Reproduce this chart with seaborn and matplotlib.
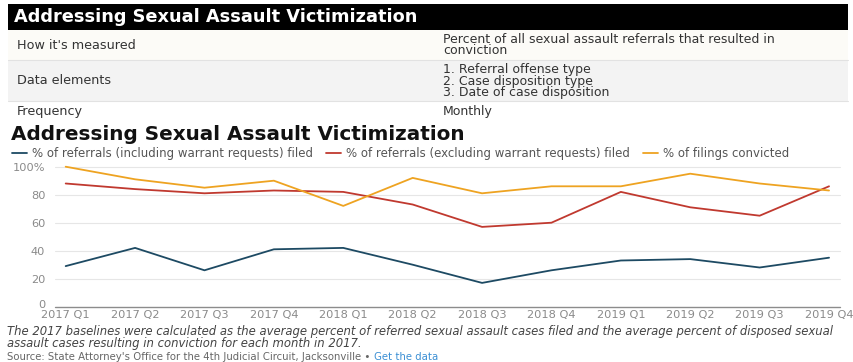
import matplotlib
matplotlib.use("Agg")
import matplotlib.pyplot as plt
from matplotlib.patches import Rectangle
from matplotlib.lines import Line2D
from matplotlib.transforms import ScaledTranslation
import pandas as pd
import seaborn as sns

# Quarterly series (percent)
quarters = ["2017 Q1", "2017 Q2", "2017 Q3", "2017 Q4",
            "2018 Q1", "2018 Q2", "2018 Q3", "2018 Q4",
            "2019 Q1", "2019 Q2", "2019 Q3", "2019 Q4"]
incl_warrant = [29, 42, 26, 41, 42, 30, 17, 26, 33, 34, 28, 35]
excl_warrant = [88, 84, 81, 83, 82, 73, 57, 60, 82, 71, 65, 86]
convicted = [100, 91, 85, 90, 72, 92, 81, 86, 86, 95, 88, 83]

series_names = ["% of referrals (including warrant requests) filed",
                "% of referrals (excluding warrant requests) filed",
                "% of filings convicted"]
series_colors = ["#1d4a63", "#c0392f", "#eea321"]

y_ticks = [0, 20, 40, 60, 80, 100]
y_tick_labels = ["0", "20", "40", "60", "80", "100%"]

table_title = "Addressing Sexual Assault Victimization"
table_rows = [
    ("How it's measured", "Percent of all sexual assault referrals that resulted in\nconviction"),
    ("Data elements", "1. Referral offense type\n2. Case disposition type\n3. Date of case disposition"),
    ("Frequency", "Monthly"),
]
chart_title = "Addressing Sexual Assault Victimization"
footnote = ("The 2017 baselines were calculated as the average percent of referred sexual assault cases filed "
            "and the average percent of disposed sexual\nassault cases resulting in conviction for each month in 2017.")
source_text = "Source: State Attorney's Office for the 4th Judicial Circuit, Jacksonville \u2022 "
link_text = "Get the data"

sns.set_style("white")
plt.rcParams["font.family"] = ["DejaVu Sans"]

W, H = 854, 362
fig = plt.figure(figsize=(W / 100, H / 100), dpi=100)
fig.patch.set_facecolor("white")


def fx(px):
    return px / W


def fy(py):
    return 1 - py / H


# ---- info table on top ----
fig.patches.append(Rectangle((fx(8), fy(30)), fx(840), 26 / H, transform=fig.transFigure,
                             facecolor="#000000", edgecolor="none"))
fig.text(fx(14), fy(17), table_title, color="white", fontsize=12.8, fontweight="bold",
         va="center", ha="left")

row_bounds = [(30, 60, "#fcfbf7"), (60, 101, "#f3f3f3"), (101, 123, "#ffffff")]
for (top, bot, col) in row_bounds:
    fig.patches.append(Rectangle((fx(8), fy(bot)), fx(840), (bot - top) / H,
                                 transform=fig.transFigure, facecolor=col, edgecolor="none"))
for yline in (60, 101):
    fig.lines.append(Line2D([fx(8), fx(848)], [fy(yline), fy(yline)], transform=fig.transFigure,
                            color="#e2e2e2", linewidth=0.8))

row_y = [45.5, 81, 112]
value_y = [45, 81, 112]
for (label, value), yy, vy in zip(table_rows, row_y, value_y):
    fig.text(fx(17), fy(yy), label, color="#333333", fontsize=9.2, va="center", ha="left")
    fig.text(fx(443), fy(vy), value, color="#333333", fontsize=9.0, va="center", ha="left",
             linespacing=0.85)

# ---- chart ----
fig.text(fx(11), fy(134), chart_title, color="#111111", fontsize=14.4, fontweight="heavy",
         va="center", ha="left")

ax = fig.add_axes([fx(55), fy(306.7), fx(840 - 55), 140 / H])
records = []
for name, vals in zip(series_names, [incl_warrant, excl_warrant, convicted]):
    for i, (q, v) in enumerate(zip(quarters, vals)):
        records.append({"pos": i, "quarter": q, "value": v, "series": name})
df = pd.DataFrame(records)

sns.lineplot(data=df, x="pos", y="value", hue="series", hue_order=series_names,
             palette=dict(zip(series_names, series_colors)), linewidth=1.3, ax=ax,
             legend=False)

ax.set_xlim(-0.154, 11.158)
ax.set_ylim(0, 100)
ax.set_xticks(range(len(quarters)))
ax.set_xticklabels(quarters)
ax.set_yticks(y_ticks)
ax.set_yticklabels(y_tick_labels)
ax.set_xlabel("")
ax.set_ylabel("")
for s in ax.spines.values():
    s.set_visible(False)
ax.set_facecolor("none")
ax.tick_params(axis="both", length=0, colors="#8a8a8a", labelsize=8.2)
ax.tick_params(axis="y", pad=7)
ax.tick_params(axis="x", pad=2.5)
# lift the zero label a little off the baseline
zero_lbl = ax.get_yticklabels()[0]
zero_lbl.set_transform(zero_lbl.get_transform() + ScaledTranslation(0, 3 / 100, fig.dpi_scale_trans))
for t in y_ticks[1:]:
    ax.axhline(t, color="#e6e6e6", linewidth=0.8, zorder=0)
ax.axhline(0, color="#8c8c8c", linewidth=1.0, zorder=1)
for ln in ax.lines:
    ln.set_clip_on(False)

handles = [Line2D([], [], color=c, linewidth=1.3) for c in series_colors]
fig.legend(handles, series_names, loc="center left", bbox_to_anchor=(fx(12), fy(154)),
           ncol=3, frameon=False, fontsize=8.5, labelcolor="#555555", handlelength=1.27,
           handletextpad=0.42, columnspacing=1.1, borderaxespad=0, borderpad=0)

# ---- notes ----
fig.text(fx(7), fy(337.5), footnote, color="#444444", fontsize=8.4, style="italic",
         va="center", ha="left", linespacing=0.95)
src = fig.text(fx(7), fy(356.5), source_text, color="#666666", fontsize=7.3, va="center", ha="left")
fig.canvas.draw()
bb = src.get_window_extent()
fig.text(bb.x1 / W, fy(356.5), link_text, color="#3b8fd4", fontsize=7.3, va="center", ha="left")

fig.savefig("out.png", dpi=100, facecolor="white")
